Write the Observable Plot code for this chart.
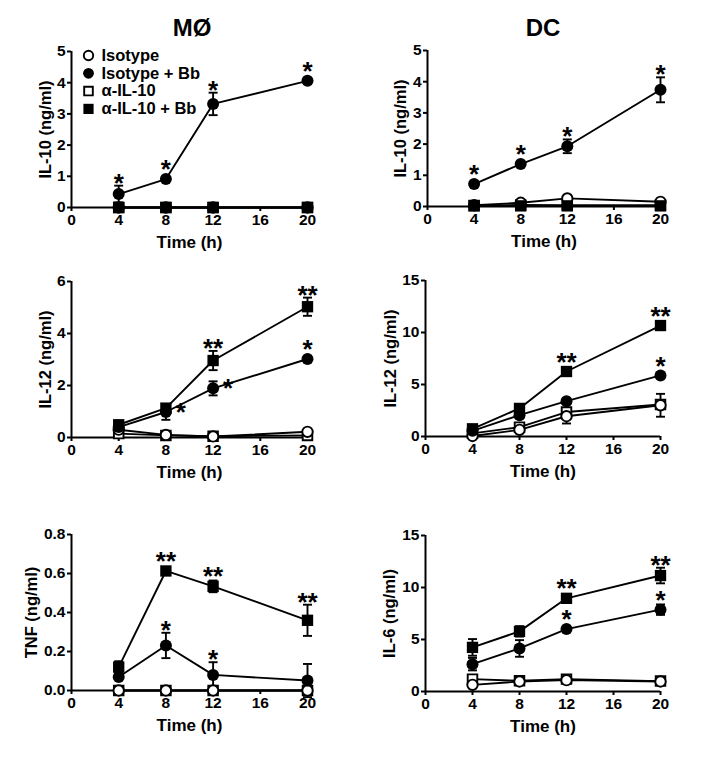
<!DOCTYPE html>
<html><head><meta charset="utf-8">
<script src="https://cdn.jsdelivr.net/npm/d3@7"></script>
<script src="https://cdn.jsdelivr.net/npm/@observablehq/plot@0.6"></script>
<style>
body{margin:0;background:#fff;}
#wrap{position:relative;width:722px;height:757px;font-family:"Liberation Sans",Arial,sans-serif;color:#000;}
.title{position:absolute;font-weight:bold;font-size:24px;transform:translate(-50%,-50%);white-space:nowrap;}
.panel{position:absolute;}
</style></head><body><div id="wrap"></div>
<script>
// ---- data ----
const times = [4, 8, 12, 20];
const xTicks = [0, 4, 8, 12, 16, 20];
const seriesNames = ["Isotype", "Isotype + Bb", "α-IL-10", "α-IL-10 + Bb"];
const columnTitles = ["MØ", "DC"];

// series order: Isotype, Isotype + Bb, α-IL-10, α-IL-10 + Bb
const macIL10    = [[0,0,0,0],[0.43,0.91,3.32,4.06],[0,0,0,0],[0,0,0,0]];
const macIL10Err = [[0,0,0,0],[0.27,0,0.36,0],[0,0,0,0],[0,0,0,0]];
const macIL10Stars = [[1,0,"*"],[1,1,"*"],[1,2,"*"],[1,3,"*"]];

const dcIL10    = [[0.04,0.12,0.26,0.15],[0.72,1.36,1.93,3.74],[0.03,0.05,0.04,0.04],[0.02,0.02,0.02,0.02]];
const dcIL10Err = [[0,0,0,0],[0,0,0.22,0.4],[0,0,0,0],[0,0,0,0]];
const dcIL10Stars = [[1,0,"*"],[1,1,"*"],[1,2,"*"],[1,3,"*"]];

const macIL12    = [[0.3,0.1,0.04,0.22],[0.4,0.98,1.89,3.02],[0.15,0.08,0.05,0.08],[0.49,1.13,2.96,5.03]];
const macIL12Err = [[0,0,0,0],[0,0.3,0.27,0],[0,0,0,0],[0,0,0.37,0.35]];
const macIL12Stars = [[3,2,"**"],[3,3,"**"],[1,1,"*","right"],[1,2,"*","right"],[1,3,"*"]];

const dcIL12    = [[0.05,0.64,1.95,3.0],[0.55,2.05,3.4,5.87],[0.3,0.9,2.35,3.08],[0.74,2.7,6.25,10.67]];
const dcIL12Err = [[0,0,0.7,1.1],[0,0,0,0],[0,0,0,0],[0,0,0,0]];
const dcIL12Stars = [[3,2,"**"],[3,3,"**"],[1,3,"*"]];

const macTNF    = [[0,0,0,0],[0.069,0.231,0.08,0.051],[0,0,0,0],[0.12,0.613,0.534,0.36]];
const macTNFErr = [[0,0,0,0],[0.01,0.065,0.065,0.085],[0,0,0,0],[0.03,0,0.03,0.08]];
const macTNFStars = [[3,1,"**"],[3,2,"**"],[3,3,"**"],[1,1,"*"],[1,2,"*"]];

const dcIL6    = [[0.64,0.96,1.09,0.96],[2.63,4.14,6.0,7.87],[1.19,1.03,1.19,1.0],[4.24,5.78,8.96,11.15]];
const dcIL6Err = [[0,0,0,0],[0.6,0.8,0,0.5],[0,0,0,0],[0.8,0.5,0,0.75]];
const dcIL6Stars = [[3,2,"**"],[3,3,"**"],[1,2,"*"],[1,3,"*"]];

const yLabels = ["IL-10 (ng/ml)", "IL-10 (ng/ml)", "IL-12 (ng/ml)", "IL-12 (ng/ml)", "TNF (ng/ml)", "IL-6 (ng/ml)"];
const xLabel = "Time (h)";

// ---- drawing ----
const FONT = "'Liberation Sans', Arial, sans-serif";
const STAR_FS = 26;
const capSymbol = {draw(ctx, size) { const r = Math.sqrt(size / Math.PI); ctx.moveTo(-r, 0); ctx.lineTo(r, 0); }};
const markerStyles = [
  {s: 2, symbol: "square", r: 5.4, fill: "white", stroke: "black", strokeWidth: 1.9},
  {s: 0, symbol: "circle", r: 5.2, fill: "white", stroke: "black", strokeWidth: 1.9},
  {s: 1, symbol: "circle", r: 6, fill: "black", stroke: "none"},
  {s: 3, symbol: "square", r: 6.4, fill: "black", stroke: "none"}
];

function panel(cfg) {
  const {vals, errs, stars, ymax, yTicks, fmt, label, left, top, ml, mr, labelDx, legend} = cfg;
  const H = 156, mt = 12, mb = 62;
  const ppu = H / ymax;
  const rows = [];
  vals.forEach((arr, s) => arr.forEach((v, i) => rows.push({s, t: times[i], v, e: errs[s][i]})));
  const errRows = rows.filter(d => d.e > 0);
  const topStars = [], rightStars = [];
  for (const [s, i, txt, where] of stars) {
    const v = vals[s][i], e = errs[s][i];
    if (where === "right") rightStars.push({t: times[i], y: v, txt});
    else topStars.push({t: times[i], y: Math.max(v + e + 8 / ppu, v + 15 / ppu), txt});
  }
  const marks = [
    Plot.ruleY([0], {x1: 0, x2: 20, stroke: "black", strokeWidth: 2}),
    Plot.ruleX([0], {y1: 0, y2: ymax, stroke: "black", strokeWidth: 2}),
    Plot.axisX({ticks: xTicks, tickSize: 4, tickPadding: 2, strokeWidth: 2, label: null, fontSize: 15.5}),
    Plot.axisY({ticks: yTicks, tickSize: 4, tickPadding: 2, strokeWidth: 2, label: null, tickFormat: fmt, fontSize: 15.5}),
    Plot.text([label], {frameAnchor: "left", textAnchor: "middle", lineAnchor: "middle", rotate: -90, dx: -labelDx, fontSize: 16.5, fontWeight: "bold"}),
    Plot.text([xLabel], {frameAnchor: "bottom", textAnchor: "middle", lineAnchor: "middle", dy: 35, fontSize: 17, fontWeight: "bold"}),
    Plot.line(rows, {x: "t", y: "v", z: "s", stroke: "black", strokeWidth: 1.9}),
    Plot.ruleX(errRows, {x: "t", y1: d => d.v - d.e, y2: d => d.v + d.e, stroke: "black", strokeWidth: 1.9}),
    Plot.dot(errRows, {x: "t", y: d => d.v + d.e, symbol: capSymbol, r: 4.5, stroke: "black", strokeWidth: 1.9, fill: "none"}),
    Plot.dot(errRows, {x: "t", y: d => d.v - d.e, symbol: capSymbol, r: 4.5, stroke: "black", strokeWidth: 1.9, fill: "none"}),
    ...markerStyles.map(m => Plot.dot(rows.filter(d => d.s === m.s), {x: "t", y: "v", symbol: m.symbol, r: m.r, fill: m.fill, stroke: m.stroke, strokeWidth: m.strokeWidth || 0})),
    Plot.text(topStars, {x: "t", y: "y", text: "txt", fontSize: STAR_FS, fontWeight: "bold", dy: 0.22 * STAR_FS}),
    Plot.text(rightStars, {x: "t", y: "y", text: "txt", fontSize: STAR_FS, fontWeight: "bold", dx: 15, dy: 0.22 * STAR_FS - 5})
  ];
  if (legend) {
    [0, 1, 2, 3].forEach((s, i) => {
      const m = markerStyles.find(d => d.s === s);
      marks.push(Plot.dot([0], {frameAnchor: "top-left", dx: 17, dy: 4 + 17.8 * i, symbol: m.symbol, r: m.r * 0.9, fill: m.fill, stroke: m.stroke, strokeWidth: m.strokeWidth || 0}));
      marks.push(Plot.text([seriesNames[s]], {frameAnchor: "top-left", dx: 30, dy: 4 + 17.8 * i, textAnchor: "start", lineAnchor: "middle", fontSize: 16.5, fontWeight: "bold"}));
    });
  }
  const chart = Plot.plot({
    width: 361, height: mt + H + mb,
    marginLeft: ml, marginRight: mr, marginTop: mt, marginBottom: mb,
    x: {domain: [0, 20]},
    y: {domain: [0, ymax]},
    style: {fontFamily: FONT, fontSize: "16px", fontWeight: "bold", color: "black", background: "transparent", overflow: "visible"},
    marks
  });
  chart.classList.add("panel");
  chart.style.left = left + "px";
  chart.style.top = top + "px";
  return chart;
}

const wrap = document.getElementById("wrap");
const intFmt = d3.format("d");
const tnfFmt = d3.format(".1f");
const cfgs = [
  {vals: macIL10, errs: macIL10Err, stars: macIL10Stars, ymax: 5, yTicks: [0,1,2,3,4,5], fmt: intFmt, label: yLabels[0], left: 0, top: 39, ml: 71, mr: 54, labelDx: 26, legend: true},
  {vals: dcIL10, errs: dcIL10Err, stars: dcIL10Stars, ymax: 5, yTicks: [0,1,2,3,4,5], fmt: intFmt, label: yLabels[1], left: 361, top: 38, ml: 66, mr: 62, labelDx: 27},
  {vals: macIL12, errs: macIL12Err, stars: macIL12Stars, ymax: 6, yTicks: [0,2,4,6], fmt: intFmt, label: yLabels[2], left: 0, top: 269, ml: 71, mr: 54, labelDx: 26},
  {vals: dcIL12, errs: dcIL12Err, stars: dcIL12Stars, ymax: 15, yTicks: [0,5,10,15], fmt: intFmt, label: yLabels[3], left: 361, top: 268, ml: 64, mr: 62, labelDx: 35},
  {vals: macTNF, errs: macTNFErr, stars: macTNFStars, ymax: 0.8, yTicks: [0,0.2,0.4,0.6,0.8], fmt: tnfFmt, label: yLabels[4], left: 0, top: 522, ml: 71, mr: 54, labelDx: 40},
  {vals: dcIL6, errs: dcIL6Err, stars: dcIL6Stars, ymax: 15, yTicks: [0,5,10,15], fmt: intFmt, label: yLabels[5], left: 361, top: 523, ml: 64, mr: 62, labelDx: 36}
];
cfgs.forEach(c => wrap.appendChild(panel(c)));

const titlePos = [[192, 28], [543, 28]];
columnTitles.forEach((t, i) => {
  const div = document.createElement("div");
  div.className = "title";
  div.textContent = t;
  div.style.left = titlePos[i][0] + "px";
  div.style.top = titlePos[i][1] + "px";
  wrap.appendChild(div);
});
</script></body></html>
